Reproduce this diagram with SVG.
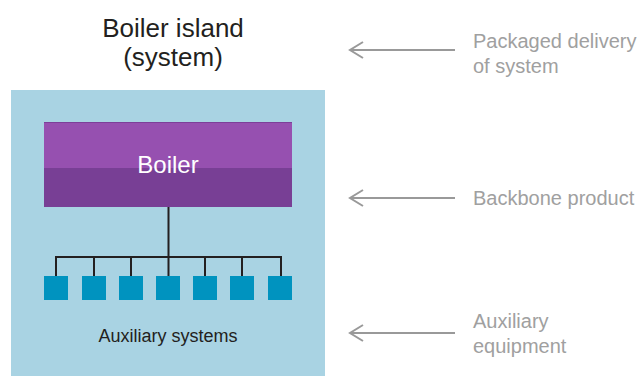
<svg xmlns="http://www.w3.org/2000/svg" width="643" height="376" viewBox="0 0 643 376">
  <style>
    .title { font-family: "Liberation Sans", Arial, sans-serif; font-size: 26px; fill: #231f20; text-anchor: middle; }
    .note { font-family: "Liberation Sans", Arial, sans-serif; font-size: 20px; fill: #a0a0a0; }
    .wire { stroke: #231f20; stroke-width: 2; fill: none; }
    .pointer { stroke: #999999; stroke-width: 2; fill: none; }
    .aux { fill: #0093bf; }
  </style>

  <!-- island title -->
  <g id="title">
    <text class="title" x="173" y="37">Boiler island</text>
    <text class="title" x="173" y="66">(system)</text>
  </g>

  <!-- island background -->
  <g id="island">
    <rect x="11" y="90" width="314" height="286" fill="#a9d3e3"/>
  </g>

  <!-- boiler block -->
  <g id="boiler">
    <rect x="44" y="122" width="248" height="46" fill="#9650b0"/>
    <rect x="44" y="168" width="248" height="39" fill="#783f95"/>
    <rect x="44" y="122" width="248" height="1" fill="#7d3f99"/>
    <text x="168" y="173" font-family="Liberation Sans, Arial, sans-serif" font-size="24" fill="#ffffff" text-anchor="middle">Boiler</text>
  </g>

  <!-- distribution wiring -->
  <g id="connectors">
    <path class="wire" d="M168.5 207 V257 M55 257 H282 M56 256 V276 M94 256 V276 M131 256 V276 M168.5 256 V276 M205 256 V276 M242 256 V276 M281 256 V276"/>
  </g>

  <!-- auxiliary units -->
  <g id="aux1"><rect class="aux" x="44" y="276" width="24" height="24"/></g>
  <g id="aux2"><rect class="aux" x="82" y="276" width="24" height="24"/></g>
  <g id="aux3"><rect class="aux" x="119" y="276" width="24" height="24"/></g>
  <g id="aux4"><rect class="aux" x="156" y="276" width="24" height="24"/></g>
  <g id="aux5"><rect class="aux" x="193" y="276" width="24" height="24"/></g>
  <g id="aux6"><rect class="aux" x="230" y="276" width="24" height="24"/></g>
  <g id="aux7"><rect class="aux" x="268" y="276" width="24" height="24"/></g>

  <g id="aux-label">
    <text x="168" y="342" font-family="Liberation Sans, Arial, sans-serif" font-size="18" fill="#231f20" text-anchor="middle">Auxiliary systems</text>
  </g>

  <!-- side annotations -->
  <g id="note-system">
    <path class="pointer" d="M455 50 H350 M363 42 L350 50 L363 58"/>
    <text class="note" x="473" y="48">Packaged delivery</text>
    <text class="note" x="473" y="73">of system</text>
  </g>
  <g id="note-backbone">
    <path class="pointer" d="M455 198 H350 M363 190 L350 198 L363 206"/>
    <text class="note" x="473" y="205">Backbone product</text>
  </g>
  <g id="note-aux">
    <path class="pointer" d="M455 333 H350 M363 325 L350 333 L363 341"/>
    <text class="note" x="473" y="328">Auxiliary</text>
    <text class="note" x="473" y="353">equipment</text>
  </g>
</svg>
